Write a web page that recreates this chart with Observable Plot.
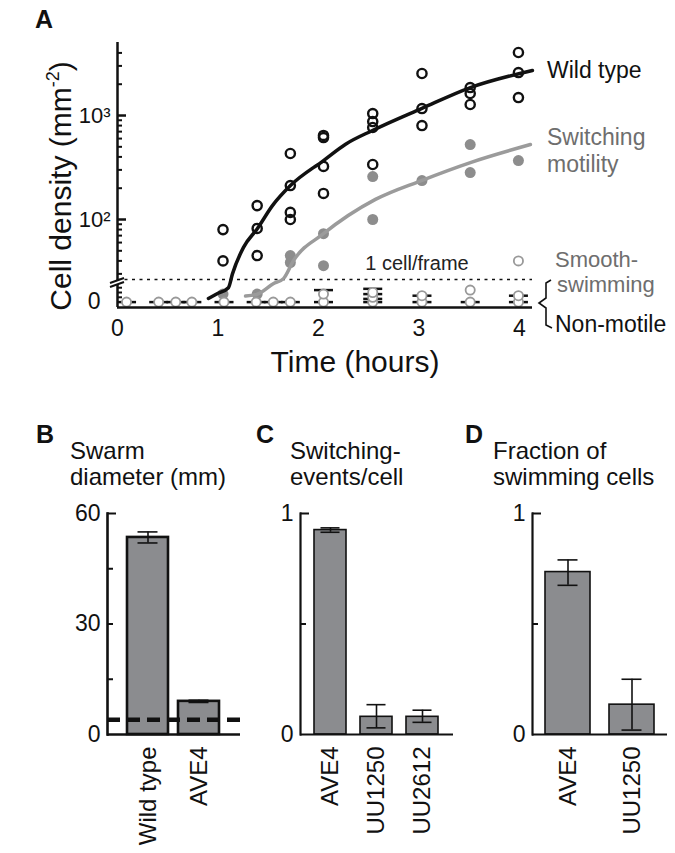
<!DOCTYPE html>
<html><head><meta charset="utf-8">
<script src="https://cdn.jsdelivr.net/npm/d3@7"></script>
<script src="https://cdn.jsdelivr.net/npm/@observablehq/plot@0.6"></script>
<style>
body{margin:0;background:#fff;}
#fig{position:relative;width:675px;height:853px;overflow:hidden;background:#fff;}
#fig svg{position:absolute;left:0;top:0;}
</style></head><body><div id="fig"></div>
<script>
// ---------------- Panel A data ----------------
const timeTicks = [0, 1, 2, 3, 4];
const wtTime    = [1.05,1.05, 1.39,1.39,1.39, 1.72,1.72,1.72,1.72, 2.05,2.05,2.05,2.05, 2.54,2.54,2.54,2.54, 3.03,3.03,3.03, 3.51,3.51,3.51, 3.99,3.99,3.99];
const wtDensity = [80,40, 136,82,45, 431,212,117,100, 643,614,324,178, 1045,875,767,338, 2535,1167,801, 1857,1629,1276, 4037,2588,1489];
const swTime    = [1.05, 1.39, 1.72,1.72, 2.05,2.05, 2.54,2.54, 3.03, 3.51,3.51, 3.99];
const swDensity = [10, 10, 45,38.6, 73,36, 259,100, 237, 526,283, 369];
const smTime    = [0.09,0.41,0.58,0.74,1.06,1.38,1.55,1.72, 2.05,2.05, 2.54,2.54,2.54, 3.03,3.03, 3.51,3.51, 3.99,3.99,3.99];
const smDensity = [0,0,0,0,0,0,0,0, 0,10, 0,6,12, 0,8, 0,15, 0,8,40];
const nmTime    = [0.09,0.41,0.58,0.74,1.06,1.38,1.55,1.72, 2.05,2.05, 2.54,2.54,2.54,2.54, 3.03,3.03, 3.51, 3.99,3.99];
const nmDensity = [0,0,0,0,0,0,0,0, 0,15, 0,4,10,16.6, 0,8, 0, 0,8];
const wtFitTime    = [0.905,1.0,1.104,1.144,1.254,1.393,1.542,1.721,2.05,2.27,2.537,3.025,3.512,4.129];
const wtFitDensity = [4.5,11,18,30,54,82,136,212,369,530,718,1167,1857,2710];
const swFitTime    = [1.274,1.393,1.55,1.652,1.75,2.05,2.567,3.025,3.512,4.109];
const swFitDensity = [7.5,10,23,27,40,73,156,237,353,526];
const detectionLimit = 26.5; // 1 cell/frame
const majorDensity = [100, 1000];
const minorDensity = [6, 12, 18, 30,40,50,60,70,80,90, 200,300,400,500,600,700,800,900, 2000,3000,4000];

// ---------------- Panel B/C/D data ----------------
const swarmStrains = ["Wild type", "AVE4"];
const swarmDiameter = [53.5, 9];
const swarmLow = [52, 8.7];
const swarmHigh = [55, 9.3];
const inoculumDiameter = 4;
const swarmTicks = [0, 30, 60];
const swarmMinor = [15, 30, 45];

const switchStrains = ["AVE4", "UU1250", "UU2612"];
const switchEvents = [0.925, 0.08, 0.08];
const switchLow = [0.915, 0.03, 0.055];
const switchHigh = [0.935, 0.135, 0.11];

const swimStrains = ["AVE4", "UU1250"];
const swimFraction = [0.735, 0.135];
const swimLow = [0.675, 0.02];
const swimHigh = [0.79, 0.25];
const fractionTicks = [0, 1];
const fractionMinor = [0.5];

// ---------------- helpers ----------------
const W = 675, H = 853;
const FONT = '"Liberation Sans", Arial, Helvetica, sans-serif';
const INK = "#111";
const baseStyle = {background: "transparent", fontFamily: FONT, fontSize: "23px", color: INK, overflow: "visible"};
const fig = document.getElementById("fig");

// broken y scale: linear band near zero, log10 above the break
const LOG_BREAK = 25, PX_DEC = 104, BAND_PX = 20;
const L0 = Math.log10(LOG_BREAK) - BAND_PX / PX_DEC;
const pos = v => v >= LOG_BREAK ? Math.log10(v) : L0 + v * (Math.log10(LOG_BREAK) - L0) / LOG_BREAK;
const yLo = pos(0) - 5.4 / PX_DEC, yHi = Math.log10(5037);
const A_LEFT = 117, A_RIGHT = 532, A_TOP = 42, A_BOTTOM = 307;
const aFrameW = A_RIGHT - A_LEFT;
const dash = {draw(ctx, size) { const h = Math.sqrt(size / Math.PI) * 1.9; ctx.moveTo(-h, 0); ctx.lineTo(h, 0); }};

const plotA = Plot.plot({
  width: W, height: H,
  marginLeft: A_LEFT, marginRight: W - A_RIGHT, marginTop: A_TOP, marginBottom: H - A_BOTTOM,
  style: baseStyle,
  x: {domain: [0, 4.13]},
  y: {domain: [yLo, yHi]},
  marks: [
    Plot.ruleY([detectionLimit], {y: pos, stroke: INK, strokeWidth: 1.5, strokeDasharray: "3,4.5"}),
    Plot.dot(swDensity, {x: swTime, y: swDensity.map(pos), r: 5.5, fill: "#8d8d8d", stroke: "none"}),
    Plot.line(swFitDensity, {x: swFitTime, y: swFitDensity.map(pos), curve: "monotone-x", stroke: "#9b9b9b", strokeWidth: 3.5}),
    Plot.dot(wtDensity, {x: wtTime, y: wtDensity.map(pos), r: 4.6, stroke: INK, strokeWidth: 2.4, fill: "none"}),
    Plot.line(wtFitDensity, {x: wtFitTime, y: wtFitDensity.map(pos), curve: "monotone-x", stroke: INK, strokeWidth: 3.5}),
    Plot.dot(nmDensity, {x: nmTime, y: nmDensity.map(pos), r: 5, symbol: dash, fill: "none", stroke: INK, strokeWidth: 2.5}),
    Plot.dot(smDensity, {x: smTime, y: smDensity.map(pos), r: 4.6, stroke: "#999", strokeWidth: 1.8, fill: "white"}),
    Plot.tickY(minorDensity, {y: pos, insetRight: aFrameW - 5, stroke: INK, strokeWidth: 2}),
    Plot.tickY(majorDensity, {y: pos, insetRight: aFrameW - 9, stroke: INK, strokeWidth: 2.5}),
    Plot.ruleX([0], {stroke: INK, strokeWidth: 2.5}),
    Plot.ruleY([yLo], {stroke: INK, strokeWidth: 2.5}),
    Plot.axisX(timeTicks, {tickSize: 0, tickPadding: 12, fontSize: 23, label: null}),
    Plot.axisY(majorDensity.map(pos), {tickSize: 0, tickPadding: 7, fontSize: 22, label: null, tickFormat: d => d === 2 ? "10²" : "10³"}),
    Plot.axisY([pos(0)], {tickSize: 0, tickPadding: 17, fontSize: 23, label: null, tickFormat: () => "0"})
  ]
});
fig.appendChild(plotA);

const BAR_TOP = 513, BAR_BOTTOM = 734, BAR_FILL = "#8b8c8f";
function barPanel(o) {
  const fw = o.right - o.left;
  const bw = fw / (o.cats.length - o.pi + 2 * o.po) * (1 - o.pi);
  const capInset = Math.max(0, (bw - o.cap) / 2);
  const marks = [
    Plot.barY(o.vals, {x: o.cats, y: o.vals, fill: BAR_FILL, stroke: INK, strokeWidth: o.sw})
  ];
  if (o.ref != null) marks.push(Plot.ruleY([o.ref], {stroke: INK, strokeWidth: 4.5, strokeDasharray: "13,7"}));
  marks.push(
    Plot.ruleX(o.vals, {x: o.cats, y1: o.lo, y2: o.hi, stroke: INK, strokeWidth: 1.6}),
    Plot.tickY(o.vals, {x: o.cats, y: o.lo, inset: capInset, stroke: INK, strokeWidth: 1.6}),
    Plot.tickY(o.vals, {x: o.cats, y: o.hi, inset: capInset, stroke: INK, strokeWidth: 1.6}),
    Plot.tickY(o.minor, {insetRight: fw - 6, stroke: INK, strokeWidth: 2}),
    Plot.tickY([o.max], {insetRight: fw - 9, stroke: INK, strokeWidth: 2}),
    Plot.ruleY([0], {stroke: INK, strokeWidth: o.aw}),
    Plot.frame({anchor: "left", stroke: INK, strokeWidth: o.aw}),
    Plot.axisY(o.ticks, {tickSize: 0, tickPadding: 7, fontSize: 23, label: null, tickFormat: d => String(d)}),
    Plot.axisX({tickSize: 0, tickPadding: 12, tickRotate: -90, fontSize: 24, label: null})
  );
  return Plot.plot({
    width: W, height: H,
    marginLeft: o.left, marginRight: W - o.right, marginTop: BAR_TOP, marginBottom: H - BAR_BOTTOM,
    style: baseStyle,
    x: {domain: o.cats, paddingInner: o.pi, paddingOuter: o.po},
    y: {domain: [0, o.max]},
    marks
  });
}

fig.appendChild(barPanel({cats: swarmStrains, vals: swarmDiameter, lo: swarmLow, hi: swarmHigh, max: 60,
  ticks: swarmTicks, minor: swarmMinor, ref: inoculumDiameter, left: 107, right: 240, pi: 0.192, po: 0.375, cap: 21, sw: 2.6, aw: 2.6}));
fig.appendChild(barPanel({cats: switchStrains, vals: switchEvents, lo: switchLow, hi: switchHigh, max: 1,
  ticks: fractionTicks, minor: fractionMinor, left: 300, right: 453, pi: 0.298, po: 0.277, cap: 20, sw: 1.6, aw: 2.2}));
fig.appendChild(barPanel({cats: swimStrains, vals: swimFraction, lo: swimLow, hi: swimHigh, max: 1,
  ticks: fractionTicks, minor: fractionMinor, left: 532, right: 667, pi: 0.297, po: 0.203, cap: 20, sw: 1.6, aw: 2.2}));

// ---------------- annotations ----------------
const ann = d3.create("svg").attr("width", W).attr("height", H)
  .style("font-family", FONT).style("overflow", "visible");
function label(x, y, s, o = {}) {
  return ann.append("text").attr("x", x).attr("y", y).text(s)
    .attr("font-size", o.size || 23).attr("fill", o.color || INK)
    .attr("font-weight", o.bold ? "bold" : null).attr("text-anchor", o.anchor || "start");
}
label(35, 28, "A", {size: 25, bold: true});
label(36, 443, "B", {size: 25, bold: true});
label(256, 443, "C", {size: 25, bold: true});
label(465, 443, "D", {size: 25, bold: true});
label(70, 459, "Swarm", {size: 24});
label(70, 485, "diameter (mm)", {size: 24});
label(290, 459, "Switching-", {size: 24});
label(290, 485, "events/cell", {size: 24});
label(493, 459, "Fraction of", {size: 24});
label(493, 485, "swimming cells", {size: 24});
label(355, 372, "Time (hours)", {size: 30, anchor: "middle"});
label(547, 78, "Wild type");
label(547, 145, "Switching", {color: "#6e6e6e"});
label(547, 172, "motility", {color: "#6e6e6e"});
label(555, 267, "Smooth-", {color: "#6e6e6e", size: 22});
label(557, 292, "swimming", {color: "#6e6e6e", size: 22});
label(555, 332, "Non-motile");
label(417, 270, "1 cell/frame", {size: 20, anchor: "middle", color: "#222"});
const yl = ann.append("text").attr("transform", "translate(71,186) rotate(-90)")
  .attr("text-anchor", "middle").attr("font-size", 30).attr("fill", INK);
yl.append("tspan").text("Cell density (mm");
yl.append("tspan").text("-2").attr("font-size", 18).attr("dy", -12);
yl.append("tspan").text(")").attr("dy", 12);
// brace
ann.append("path").attr("d", "M551,280 L546,283 L546,298 L539,303 L546,308 L546,325 L552,328")
  .attr("fill", "none").attr("stroke", INK).attr("stroke-width", 1.6);
// axis break marks
ann.append("path").attr("d", "M110,283 L124,278 L124,282 L110,287 Z").attr("fill", "white");
ann.append("path").attr("d", "M110,283 L124,278 M110,287 L124,282")
  .attr("stroke", INK).attr("stroke-width", 2);
fig.appendChild(ann.node());
</script>
</body></html>
